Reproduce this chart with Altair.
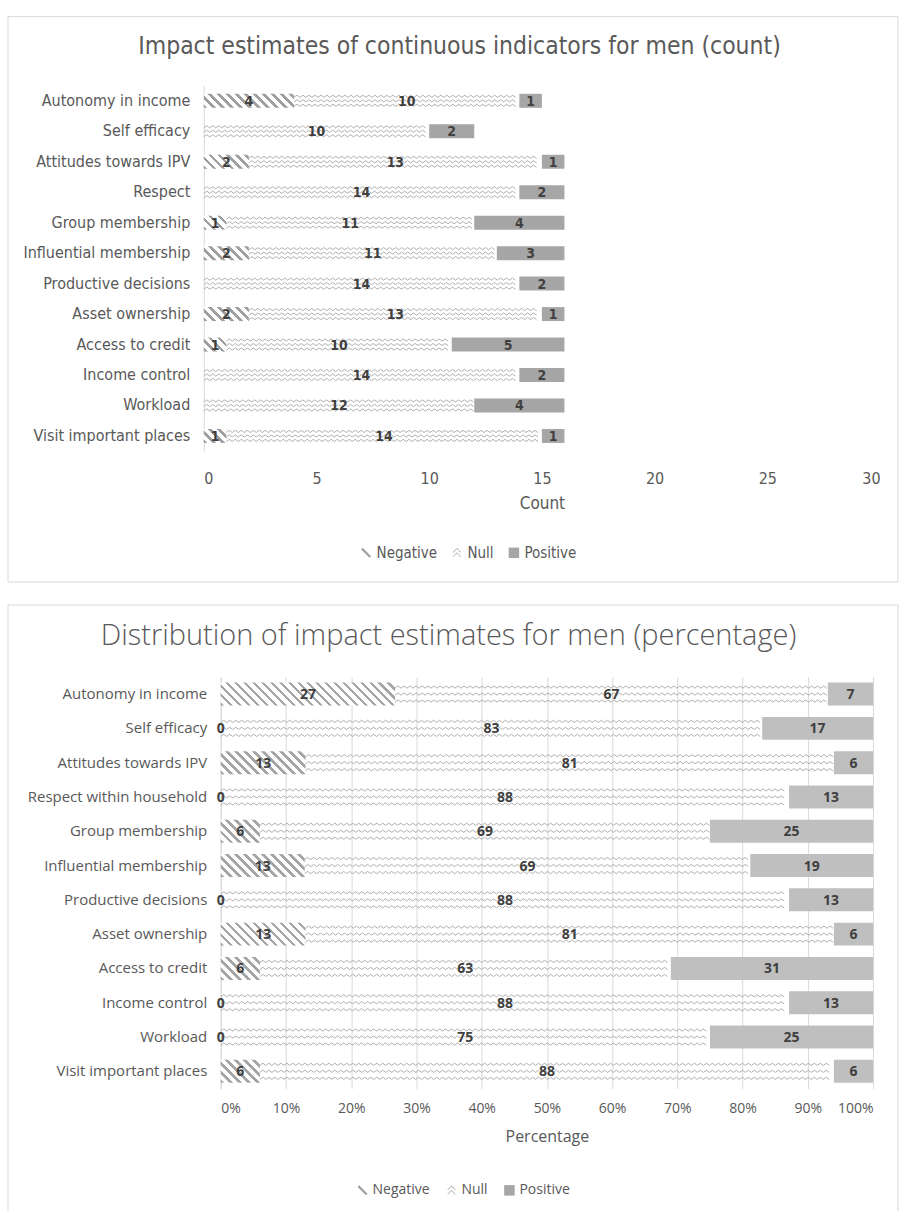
import altair as alt
import pandas as pd

# ---------------- data ----------------
impacts = ["Negative", "Null", "Positive"]

ind_count = ["Autonomy in income", "Self efficacy", "Attitudes towards IPV", "Respect",
             "Group membership", "Influential membership", "Productive decisions",
             "Asset ownership", "Access to credit", "Income control", "Workload",
             "Visit important places"]
neg_count = [4, 0, 2, 0, 1, 2, 0, 2, 1, 0, 0, 1]
null_count = [10, 10, 13, 14, 11, 11, 14, 13, 10, 14, 12, 14]
pos_count = [1, 2, 1, 2, 4, 3, 2, 1, 5, 2, 4, 1]

ind_pct = ["Autonomy in income", "Self efficacy", "Attitudes towards IPV", "Respect within household",
           "Group membership", "Influential membership", "Productive decisions",
           "Asset ownership", "Access to credit", "Income control", "Workload",
           "Visit important places"]
neg_pct = [27, 0, 13, 0, 6, 13, 0, 13, 6, 0, 0, 6]
null_pct = [67, 83, 81, 88, 69, 69, 88, 81, 63, 88, 75, 88]
pos_pct = [7, 17, 6, 13, 25, 19, 13, 6, 31, 13, 25, 6]

count_ticks = [0, 5, 10, 15, 20, 25, 30]
pct_ticks = [0, 0.1, 0.2, 0.3, 0.4, 0.5, 0.6, 0.7, 0.8, 0.9, 1.0]


def long_table(inds, neg, nul, pos):
    rows = []
    for i, name in enumerate(inds):
        for k, (imp, vals) in enumerate(zip(impacts, [neg, nul, pos])):
            rows.append({"Indicator": name, "Impact": imp, "order": k, "value": vals[i]})
    return pd.DataFrame(rows)


df_count = long_table(ind_count, neg_count, null_count, pos_count)
df_pct = long_table(ind_pct, neg_pct, null_pct, pos_pct)

GREY_TXT = "#595959"
LAB_TXT = "#404040"
BORDER = "#d9d9d9"
FONT_A = "Liberation Sans Narrow, DejaVu Sans Condensed, sans-serif"
FONT_B = "Open Sans, Lato, sans-serif"

# legend glyphs (filled outlines in the unit square)
SHAPE_NEG = "M-0.95,-0.65L-0.65,-0.95L0.95,0.65L0.65,0.95Z"
SHAPE_NULL = ("M-0.8,-0.15L0,-0.95L0.8,-0.15L0.68,-0.03L0,-0.71L-0.68,-0.03Z"
              "M-0.8,0.7L0,-0.1L0.8,0.7L0.68,0.82L0,0.14L-0.68,0.82Z")
SHAPE_POS = "square"


def stripe_expr(color, n=24, f=0.42):
    stops = []
    for k in range(n):
        stops.append(f"{{offset:min(1,{k}*datum.q),color:'{color}'}}")
        stops.append(f"{{offset:min(1,{k + f}*datum.q),color:'{color}'}}")
        stops.append(f"{{offset:min(1,{k + f}*datum.q),color:'#ffffff'}}")
        stops.append(f"{{offset:min(1,{k + 1}*datum.q),color:'#ffffff'}}")
    return ("{gradient:'linear',x1:0,y1:1,x2:datum.gx2,y2:datum.gy2,stops:["
            + ",".join(stops) + "]}")


def zigzag_expr(rows, amp, period=6, reps=110):
    half = period / 2
    unit = f"l{half},-{2 * amp}l{half},{2 * amp}"
    U = unit * reps
    L = len(unit)
    parts = [f"'M0,{r + amp}'+substring('{U}',0,floor(datum.w/{period})*{L})" for r in rows]
    return "+".join(parts)


def panel(df, inds, W, xrange, K, barh, normalize, H, title, title_x, title_y, title_font,
          title_size, font, lab_size, ylab_size, stripe_col, pos_col, xaxis, yoffset,
          legend_x, legend_y, leg_font, leg_size, leg_pad, box, show_zero, zig_rows):
    base = alt.Chart(df).transform_stack(
        stack="value", as_=["x0", "x1"], groupby=["Indicator"],
        sort=[alt.SortField("order", order="ascending")],
        offset="normalize" if normalize else "zero",
    ).transform_calculate(
        w=f"(datum.x1-datum.x0)*{K}",
        q=f"9/((datum.x1-datum.x0)*{K}+{barh})",
        gx2=f"((datum.x1-datum.x0)*{K}+{barh})*((datum.x1-datum.x0)*{K})/(pow((datum.x1-datum.x0)*{K},2)+{barh * barh})",
        gy2=f"1-((datum.x1-datum.x0)*{K}+{barh})*{barh}/(pow((datum.x1-datum.x0)*{K},2)+{barh * barh})",
        xm="(datum.x0+datum.x1)/2",
    )

    xscale = alt.Scale(domain=[0, 1] if normalize else [0, 30], nice=False, zero=True,
                       range=xrange)
    yenc = alt.Y("Indicator:N", sort=inds,
                 scale=alt.Scale(paddingInner=0, paddingOuter=0),
                 axis=alt.Axis(title=None, labelFont=font, labelFontSize=ylab_size,
                               labelColor=GREY_TXT, ticks=False, domain=True,
                               domainColor=BORDER, labelPadding=14, labelLimit=400,
                               offset=yoffset))
    xenc = alt.X("x0:Q", scale=xscale, axis=xaxis)

    neg = base.transform_filter("datum.Impact=='Negative' && datum.x1>datum.x0").mark_bar(
        size=barh, fill={"expr": stripe_expr(stripe_col)}
    ).encode(x=xenc, x2="x1:Q", y=yenc)

    nul = base.transform_filter("datum.Impact=='Null' && datum.x1>datum.x0").mark_point(
        shape={"expr": zigzag_expr(zig_rows, 1.1)}, size=4, filled=False,
        stroke="#a6a6a6", strokeWidth=0.9, opacity=1
    ).encode(x=xenc, y=yenc)

    pos = base.transform_filter("datum.Impact=='Positive'").mark_bar(
        size=barh, color=pos_col
    ).encode(x=xenc, x2="x1:Q", y=yenc)

    leg_common = dict(title=None, orient="none", legendX=legend_x, legendY=legend_y,
                      direction="horizontal", labelFont=leg_font, labelFontSize=leg_size,
                      labelColor=GREY_TXT, symbolSize=110, columnPadding=leg_pad,
                      labelOffset=3, padding=0, symbolOpacity=1, symbolStrokeWidth=0)
    leg = base.mark_point(filled=True, opacity=0, size=0).encode(
        x=xenc, y=yenc,
        color=alt.Color("Impact:N",
                        scale=alt.Scale(domain=impacts, range=["#a0a0a0", "#bdbdbd", "#a6a6a6"]),
                        legend=alt.Legend(**leg_common)),
        shape=alt.Shape("Impact:N",
                        scale=alt.Scale(domain=impacts, range=[SHAPE_NEG, SHAPE_NULL, SHAPE_POS]),
                        legend=alt.Legend(**leg_common)),
    )

    lab_filter = "true" if show_zero else "datum.value>0"
    labels = base.transform_filter(lab_filter).mark_text(
        font=font, fontWeight="bold", fontSize=lab_size, color=LAB_TXT,
        align="center", baseline="middle", dy=1,
    ).encode(x=alt.X("xm:Q", scale=xscale), y=yenc, text=alt.Text("value:Q"))

    one = pd.DataFrame({"a": [0]})
    frame = alt.Chart(one).mark_rect(fill="transparent", stroke=BORDER, strokeWidth=1).encode(
        x=alt.value(box[0]), x2=alt.value(box[1]), y=alt.value(box[2]), y2=alt.value(box[3]))
    ttl = alt.Chart(one).mark_text(
        text=title, font=title_font, fontSize=title_size, color=GREY_TXT,
        align="center", baseline="middle", fontWeight=300,
    ).encode(x=alt.value(title_x), y=alt.value(title_y))

    return alt.layer(frame, ttl, neg, nul, pos, leg, labels).properties(width=W, height=H)


top_axis = alt.Axis(title="Count", values=count_ticks, grid=False, domain=False, ticks=False,
                    labelFont=FONT_A, labelFontSize=16, labelColor=GREY_TXT, labelPadding=19,
                    titleFont=FONT_A, titleFontSize=17, titleColor=GREY_TXT,
                    titleFontWeight="normal", titlePadding=9, titleX=321.5)
bot_axis = alt.Axis(title="Percentage", values=pct_ticks, format=".0%", grid=True,
                    gridColor=BORDER, domain=False, ticks=False,
                    labelFont=FONT_B, labelFontSize=14, labelColor=GREY_TXT, labelPadding=13,
                    titleFont=FONT_B, titleFontSize=16, titleColor=GREY_TXT,
                    titleFontWeight="normal", titlePadding=13)

# both panels share the same plot origin (x = 220); the count panel's scale
# range starts 17px to the left of it, like the reference.
top = panel(df_count, ind_count, 660, [-17, 660], 677 / 30, 14, False, 366,
            "Impact estimates of continuous indicators for men (count)", 239, -39,
            FONT_A, 24.5, FONT_A, 14, 16, "#a0a0a0", "#a6a6a6", top_axis, 17,
            138, 460, FONT_A, 15, 12, (-213, 678, -69, 497), False, [-4.5, 0, 4.5])
bottom = panel(df_pct, ind_pct, 653, [0, 653], 653, 23, True, 412,
               "Distribution of impact estimates for men (percentage)", 228, -41,
               FONT_B, 29, FONT_B, 14, 15, "#a6a6a6", "#bfbfbf", bot_axis, 0,
               135, 507, FONT_B, 14, 14, (-213, 678, -72, 536), True, [-7, 0, 7])

chart = alt.concat(top, bottom, columns=1, align="none", spacing=21).resolve_scale(
    x="independent", y="independent", color="independent", shape="independent"
).resolve_legend(color="independent", shape="independent").properties(
    padding={"left": 7, "top": 15, "right": 0, "bottom": 0}
).configure_view(stroke=None).configure_axis(labelOverlap=False)

chart.save("out.html", embed_options={"renderer": "svg", "actions": False})
